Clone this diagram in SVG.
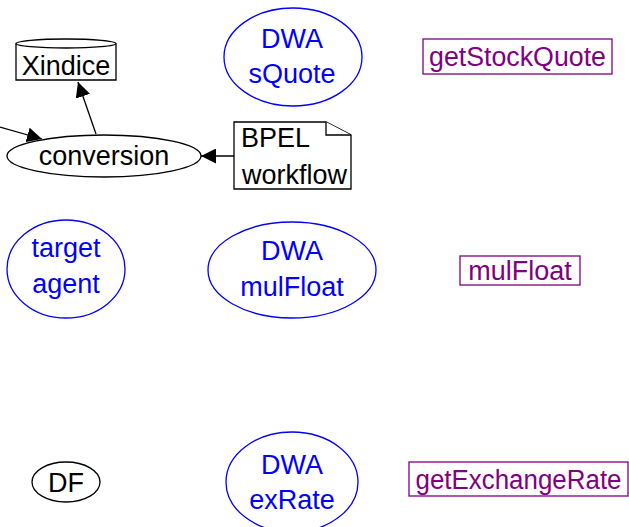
<svg xmlns="http://www.w3.org/2000/svg" width="629" height="527" viewBox="0 0 629 527">
  <defs>
    <marker id="arrow" viewBox="0 0 10 10" refX="10" refY="5" markerWidth="15" markerHeight="15" markerUnits="userSpaceOnUse" orient="auto">
      <path d="M0,0 L10,5 L0,10 Z" fill="#000"/>
    </marker>
  </defs>
  <style>
    text { font-family: "Liberation Sans", Arial, sans-serif; font-size: 27px; text-anchor: middle; }
    .black { fill: #000; }
    .blue { fill: #0000ff; }
    .purple { fill: #800080; }
    .outline { fill: #fff; stroke: #000; stroke-width: 1.3; }
    .agent { fill: none; stroke: #0000ff; stroke-width: 1.3; }
    .service { fill: none; stroke: #800080; stroke-width: 1.3; }
    .edge { fill: none; stroke: #000; stroke-width: 1.3; marker-end: url(#arrow); }
  </style>
  <rect width="629" height="527" fill="#fff"/>

  <g id="connectors">
    <line class="edge" x1="0" y1="127" x2="42" y2="139"/>
    <line class="edge" x1="96" y1="134" x2="78" y2="82"/>
    <line class="edge" x1="234" y1="156" x2="201" y2="156"/>
  </g>

  <g id="xindice">
    <path class="outline" d="M16,43.5 L16,80 L116,80 L116,43.5"/>
    <ellipse class="outline" cx="66" cy="43.5" rx="50" ry="4.5"/>
    <text class="black" x="66" y="75">Xindice</text>
  </g>

  <g id="conversion">
    <ellipse class="outline" cx="104" cy="156" rx="97" ry="21"/>
    <text class="black" x="104" y="165">conversion</text>
  </g>

  <g id="bpel-workflow">
    <path class="outline" d="M234,122 L326,122 L351,135 L351,189 L234,189 Z"/>
    <path class="outline" fill="none" d="M326,122 L326,135 L351,135"/>
    <text class="black" x="241" y="147" style="text-anchor:start">BPEL</text>
    <text class="black" x="242" y="184" style="text-anchor:start">workflow</text>
  </g>

  <g id="dwa-squote">
    <ellipse class="agent" cx="293" cy="57" rx="69" ry="49"/>
    <text class="blue" x="292" y="48">DWA</text>
    <text class="blue" x="292" y="83">sQuote</text>
  </g>

  <g id="getstockquote">
    <rect class="service" x="423" y="39" width="189" height="35"/>
    <text class="purple" x="517.5" y="66" textLength="177" lengthAdjust="spacingAndGlyphs">getStockQuote</text>
  </g>

  <g id="target-agent">
    <ellipse class="agent" cx="66" cy="269" rx="59" ry="49"/>
    <text class="blue" x="66" y="257">target</text>
    <text class="blue" x="66" y="293">agent</text>
  </g>

  <g id="dwa-mulfloat">
    <ellipse class="agent" cx="292" cy="270" rx="84" ry="48"/>
    <text class="blue" x="292" y="260">DWA</text>
    <text class="blue" x="292" y="296">mulFloat</text>
  </g>

  <g id="mulfloat">
    <rect class="service" x="460" y="256" width="120" height="29"/>
    <text class="purple" x="520" y="280">mulFloat</text>
  </g>

  <g id="df">
    <ellipse class="outline" cx="66" cy="482" rx="34" ry="20"/>
    <text class="black" x="66" y="492">DF</text>
  </g>

  <g id="dwa-exrate">
    <ellipse class="agent" cx="292" cy="482" rx="66" ry="50"/>
    <text class="blue" x="292" y="474">DWA</text>
    <text class="blue" x="292" y="509">exRate</text>
  </g>

  <g id="getexchangerate">
    <rect class="service" x="409" y="462" width="219" height="34"/>
    <text class="purple" x="518.5" y="489" textLength="206" lengthAdjust="spacingAndGlyphs">getExchangeRate</text>
  </g>
</svg>
